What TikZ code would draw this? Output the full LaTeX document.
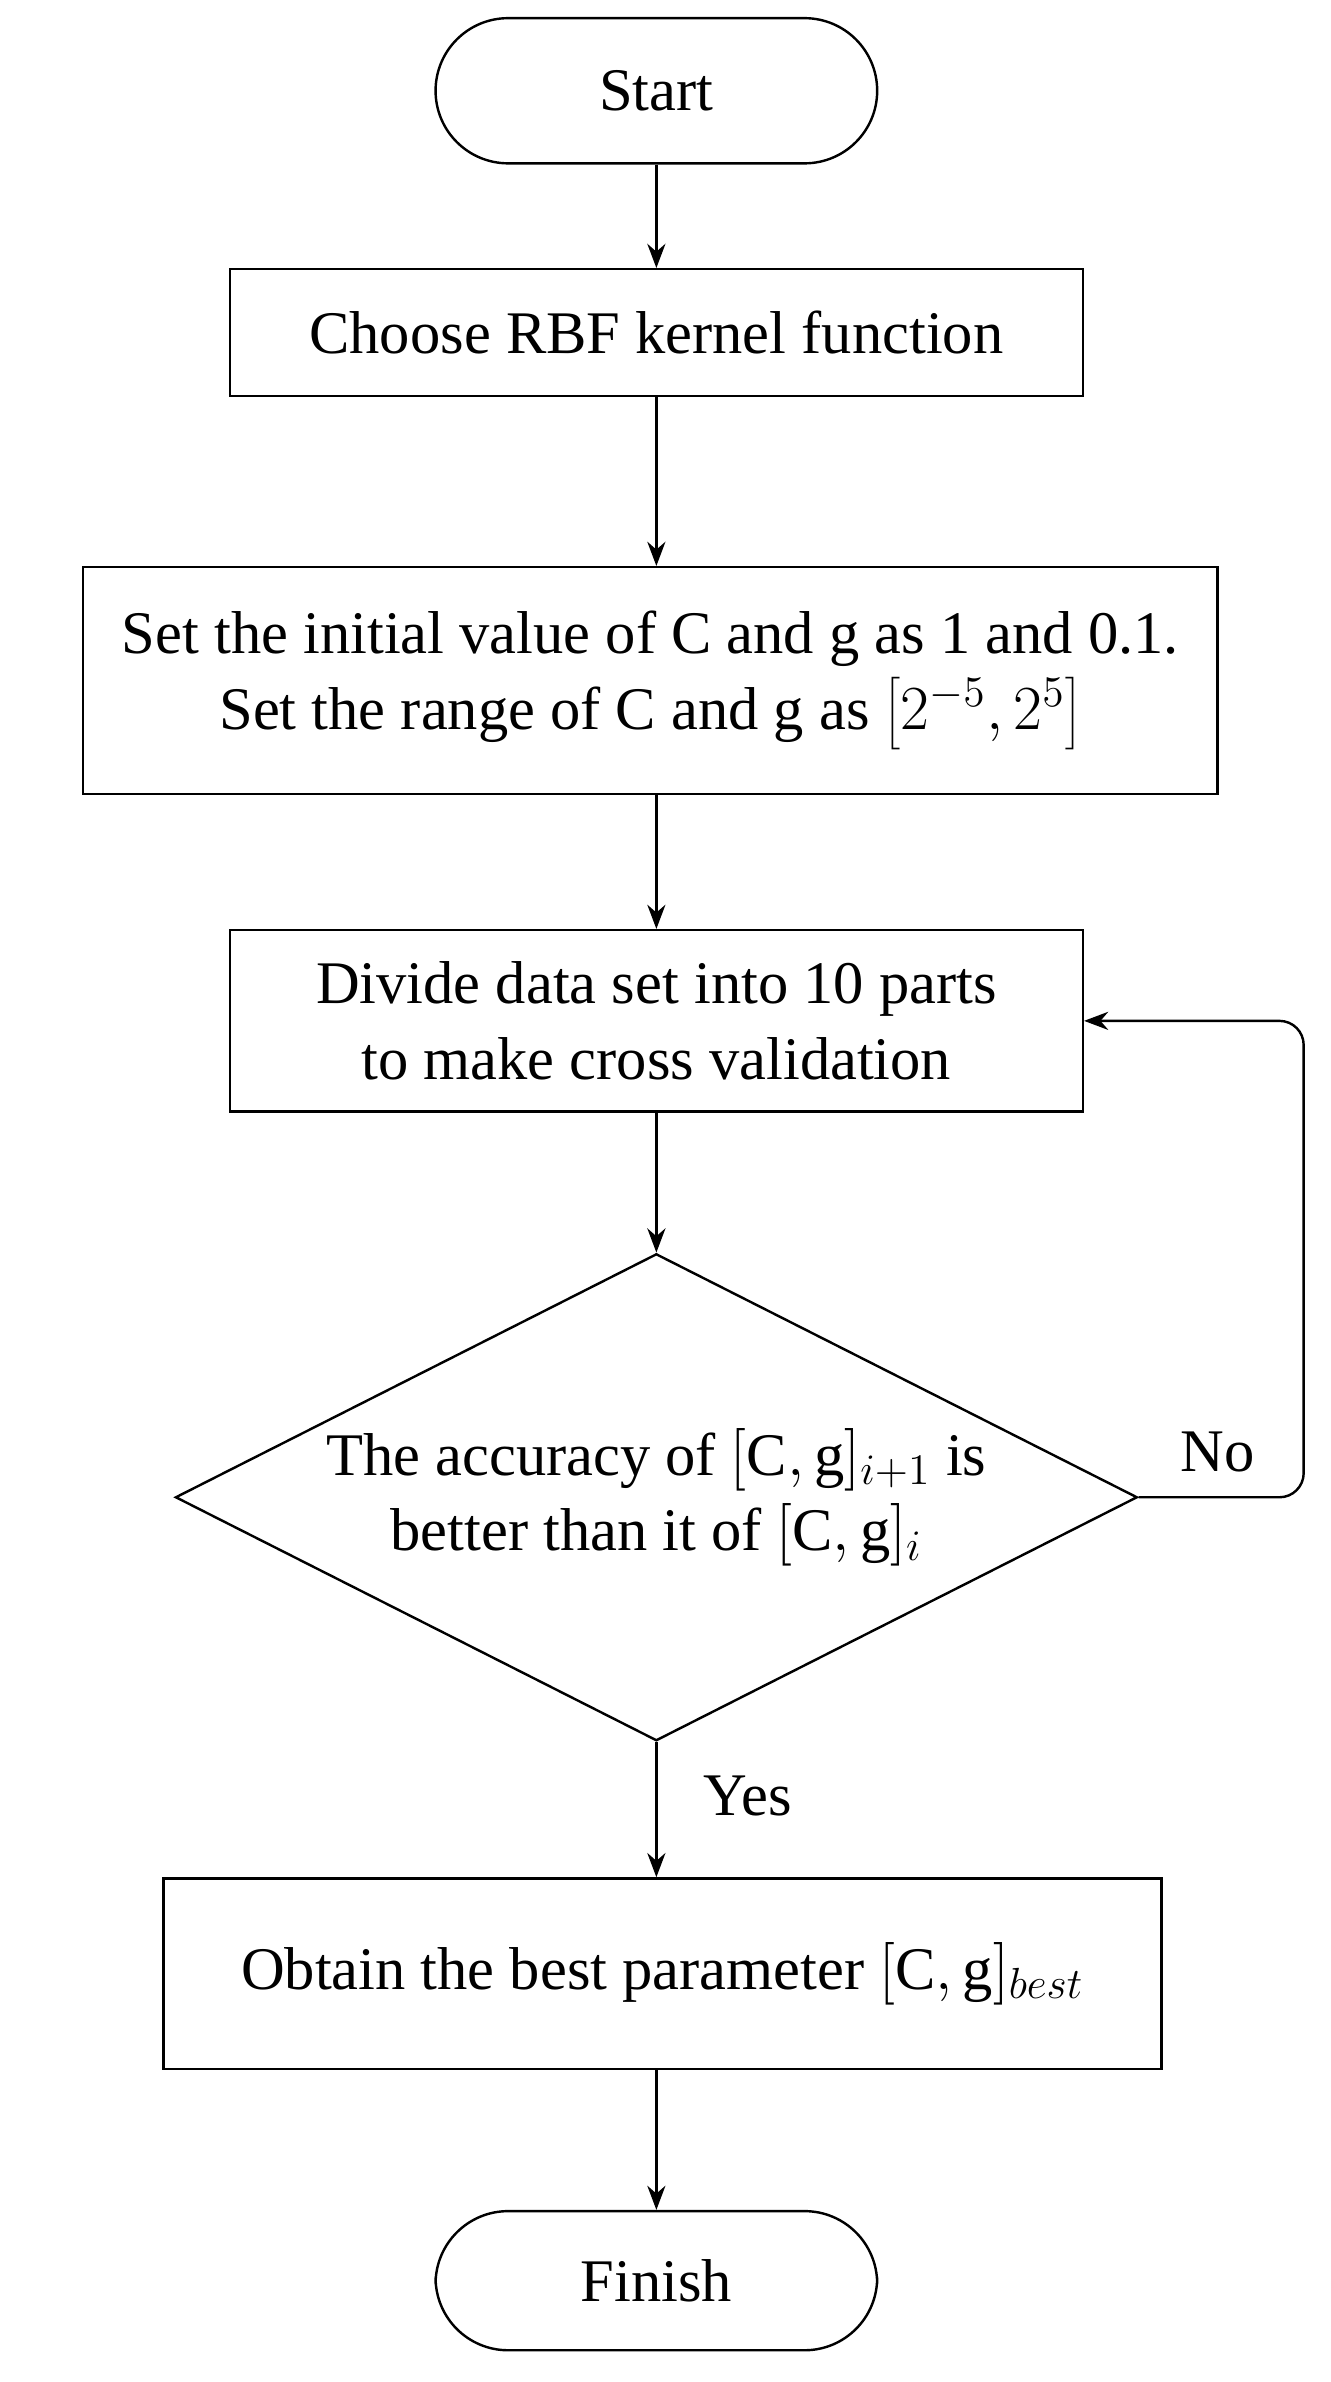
\documentclass[tikz,border=0pt]{standalone}
\usepackage{fontspec}
\setmainfont{Liberation Serif}
\usetikzlibrary{shapes.geometric,arrows.meta}
\begin{document}
\begin{tikzpicture}[x=0.5pt,y=-0.5pt,
  every node/.style={font=\fontsize{20}{25}\selectfont},
  box/.style={draw,line width=0.8pt,inner sep=0pt},
  term/.style={draw,line width=0.8pt,rounded corners=24pt,inner sep=0pt},
  arr/.style={-{Stealth[length=8pt,width=6pt]},line width=0.8pt}]
\useasboundingbox (0,0) rectangle (880,1575);
\node[term,minimum width=146pt,minimum height=48pt] (start) at (434,60) {Start};
\node[box,minimum width=282pt,minimum height=42pt] (b1) at (434,220) {Choose RBF kernel function};
\node[box,minimum width=375pt,minimum height=75pt,align=center] (b2) at (430,450) {Set the initial value of C and g as 1 and 0.1.\\Set the range of C and g as $\left[2^{-5},2^{5}\right]$};
\node[box,minimum width=282pt,minimum height=60pt,align=center] (b3) at (434,675) {Divide data set into 10 parts\\to make cross validation};
\node[draw,line width=0.8pt,diamond,aspect=2,minimum width=318pt,minimum height=161pt,inner sep=0pt,align=center] (d) at (434,990) {The accuracy of $[\mathrm{C,g}]_{i+1}$ is\\better than it of $[\mathrm{C,g}]_{i}$};
\node[box,minimum width=330pt,minimum height=63pt] (b4) at (438,1305) {Obtain the best parameter $[\mathrm{C,g}]_{best}$};
\node[term,minimum width=146pt,minimum height=46pt] (fin) at (434,1508) {Finish};
\coordinate (c1) at (862,990);
\coordinate (c2) at (862,675);
\draw[arr] (start) -- (b1);
\draw[arr] (b1) -- (b1.south |- b2.north);
\draw[arr] (b1.south |- b2.south) -- (b3);
\draw[arr] (b3) -- (d);
\draw[arr] (d.south) -- node[right=12pt,pos=0.4]{Yes} (d.south |- b4.north);
\draw[arr] (d.south |- b4.south) -- (fin);
\draw[arr,rounded corners=8pt] (d.east) -- (c1) -- (c2) -- (b3.east);
\node (no) at (805,960) {No};
\end{tikzpicture}
\end{document}
